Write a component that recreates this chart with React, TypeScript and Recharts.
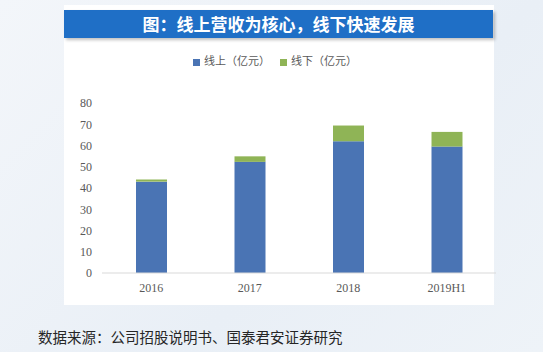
import { BarChart, Bar, XAxis, YAxis, Legend } from 'recharts';

const years = ['2016', '2017', '2018', '2019H1'];
const online = [43, 52.3, 62, 59.5];
const offline = [1, 2.6, 7.4, 6.9];
const yTicks = [0, 10, 20, 30, 40, 50, 60, 70, 80];

const data = years.map((year, i) => ({ year, online: online[i], offline: offline[i] }));

const serif = '"Liberation Serif", "DejaVu Serif", serif';
const cjk = '"Noto Sans CJK SC", "Noto Sans", sans-serif';

function App() {
  return (
    <div
      style={{
        position: 'absolute',
        left: 0,
        top: 0,
        width: 543,
        height: 352,
        overflow: 'hidden',
        background: 'linear-gradient(135deg, #f3f6fa 0%, #e9eff6 60%, #eef3f8 100%)',
      }}
    >
      {/* white panel */}
      <div
        style={{
          position: 'absolute',
          left: 64,
          top: 5,
          width: 430,
          height: 300,
          background: '#ffffff',
        }}
      />
      {/* title bar */}
      <div
        style={{
          position: 'absolute',
          left: 64,
          top: 10,
          width: 429,
          height: 28,
          background: '#1f6fc6',
          boxShadow: '2px 2px 3px rgba(0,0,0,0.25)',
          color: '#ffffff',
          fontFamily: cjk,
          fontWeight: 700,
          fontSize: 17,
          lineHeight: '28px',
          textAlign: 'center',
        }}
      >
        图：线上营收为核心，线下快速发展
      </div>
      <div style={{ position: 'absolute', left: 0, top: 0 }}>
        <BarChart
          width={543}
          height={352}
          data={data}
          margin={{ top: 87, right: 47, left: 62, bottom: 49 }}
          barSize={31}
        >
          <XAxis
            dataKey="year"
            height={30}
            tickLine={false}
            axisLine={{ stroke: '#d9d9d9' }}
            tick={{ fill: '#595959', fontSize: 12, fontFamily: serif }}
            tickMargin={4}
          />
          <YAxis
            width={40}
            domain={[0, 80]}
            ticks={yTicks}
            interval={0}
            tickLine={false}
            axisLine={false}
            tick={{ fill: '#595959', fontSize: 12, fontFamily: serif }}
            tickMargin={4}
          />
          <Legend
            verticalAlign="top"
            align="center"
            iconType="square"
            iconSize={7}
            wrapperStyle={{
              top: 52,
              left: 120,
              width: 320,
              fontFamily: cjk,
              fontSize: 11,
            }}
            formatter={(value) => <span style={{ color: '#595959' }}>{value}</span>}
          />
          <Bar dataKey="online" name="线上（亿元）" stackId="a" fill="#4a74b4" isAnimationActive={false} />
          <Bar dataKey="offline" name="线下（亿元）" stackId="a" fill="#8fb456" isAnimationActive={false} />
        </BarChart>
      </div>
      <div
        style={{
          position: 'absolute',
          left: 38,
          top: 326,
          fontFamily: cjk,
          fontSize: 14.5,
          color: '#262626',
          whiteSpace: 'nowrap',
        }}
      >
        数据来源：公司招股说明书、国泰君安证券研究
      </div>
    </div>
  );
}

export default App;
